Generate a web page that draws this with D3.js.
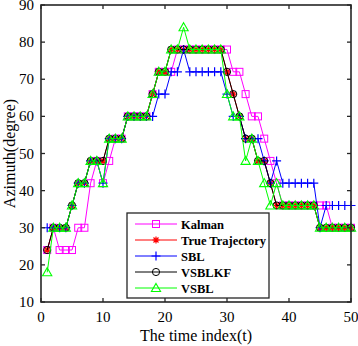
<!DOCTYPE html>
<html><head><meta charset="utf-8">
<script src="https://cdn.jsdelivr.net/npm/d3@7"></script>
<style>body{margin:0;background:#fff}svg{display:block}</style>
</head><body>
<svg id="c" width="358" height="346"></svg>
<script>
const timeIndex = d3.range(1, 51);
const kalman = [24,30,24,24,24,30,30,42,48,42, 48,54,54,60,60,60,60,66,72,72, 72,78,78,78,78,78,78,78,78,78, 72,72,66,60,60,54,48,42,36,36, 36,36,36,36,36,36,30,30,30,30];
const trueTraj = [24,30,30,30,36,42,42,48,48,48, 54,54,54,60,60,60,60,66,72,72, 78,78,78,78,78,78,78,78,78,72, 66,60,54,54,48,48,42,36,36,36, 36,36,36,36,30,30,30,30,30,30];
const sbl = [30,30,30,30,36,42,42,48,48,42, 54,54,54,60,60,60,60,60,66,66, 72,72,78,72,72,72,72,72,72,66, 60,60,54,54,54,48,42,48,42,42, 42,42,42,42,30,36,36,36,36,36];
const vsblkf = [24,30,30,30,36,42,42,48,48,48, 54,54,54,60,60,60,60,66,72,72, 78,78,78,78,78,78,78,78,78,72, 66,60,54,54,48,48,42,36,36,36, 36,36,36,36,30,30,30,30,30,30];
const vsbl = [18,30,30,30,36,42,42,48,48,42, 54,54,54,60,60,60,60,66,72,72, 78,78,84,78,78,78,78,78,78,66, 60,60,48,54,48,42,36,42,36,36, 36,36,36,36,30,30,30,30,30,30];
const xTicks = [0,10,20,30,40,50];
const yTicks = [10,20,30,40,50,60,70,80,90];
const seriesNames = ["Kalman","True Trajectory","SBL","VSBLKF","VSBL"];
const seriesColors = ["#ff00ff","#ff0000","#0000ff","#000000","#00ff00"];
const seriesMarkers = ["square","asterisk","plus","circle","triangle"];
const seriesData = [kalman, trueTraj, sbl, vsblkf, vsbl];

const svg = d3.select("#c");
const L = 41, R = 351, T = 5, B = 302;
const x = d3.scaleLinear().domain([0,50]).range([L,R]);
const y = d3.scaleLinear().domain([10,90]).range([B,T]);
const font = "'Liberation Serif','Times New Roman',serif";

function drawMarker(g, type, cx, cy, color) {
  if (type === "square") {
    g.append("rect").attr("x", cx-3.5).attr("y", cy-3.5).attr("width", 7).attr("height", 7)
      .attr("fill","none").attr("stroke", color).attr("stroke-width", 1);
  } else if (type === "asterisk") {
    const s = 3.5, d = 2.5;
    const p = `M${cx-s},${cy}L${cx+s},${cy}M${cx},${cy-s}L${cx},${cy+s}M${cx-d},${cy-d}L${cx+d},${cy+d}M${cx-d},${cy+d}L${cx+d},${cy-d}`;
    g.append("path").attr("d", p).attr("stroke", color).attr("stroke-width", 1.2).attr("fill","none");
  } else if (type === "plus") {
    const s = 4.5;
    g.append("path").attr("d", `M${cx-s},${cy}L${cx+s},${cy}M${cx},${cy-s}L${cx},${cy+s}`)
      .attr("stroke", color).attr("stroke-width", 1.2).attr("fill","none");
  } else if (type === "circle") {
    g.append("circle").attr("cx", cx).attr("cy", cy).attr("r", 3.6)
      .attr("fill","none").attr("stroke", color).attr("stroke-width", 1);
  } else if (type === "triangle") {
    const s = 4.6;
    g.append("path").attr("d", `M${cx},${cy-s}L${cx+s},${cy+s*0.75}L${cx-s},${cy+s*0.75}Z`)
      .attr("stroke", color).attr("stroke-width", 1.1).attr("fill","none");
  }
}

// series
const plotG = svg.append("g");
seriesData.forEach((vals, i) => {
  const g = plotG.append("g");
  const line = d3.line().x((d,j) => x(timeIndex[j])).y(d => y(d));
  g.append("path").datum(vals).attr("d", line).attr("fill","none")
    .attr("stroke", seriesColors[i]).attr("stroke-width", 1);
  vals.forEach((v, j) => drawMarker(g, seriesMarkers[i], x(timeIndex[j]), y(v), seriesColors[i]));
});

// axes box
const axisColor = "#262626";
const tl = 4;
const axG = svg.append("g");
axG.append("rect").attr("x", L).attr("y", T).attr("width", R-L).attr("height", B-T)
  .attr("fill","none").attr("stroke", axisColor).attr("stroke-width", 1.6);
xTicks.forEach(t => {
  const px = x(t);
  axG.append("line").attr("x1", px).attr("x2", px).attr("y1", B).attr("y2", B-tl).attr("stroke", axisColor).attr("stroke-width", 1.3);
  axG.append("line").attr("x1", px).attr("x2", px).attr("y1", T).attr("y2", T+tl).attr("stroke", axisColor).attr("stroke-width", 1.3);
  axG.append("text").attr("x", px).attr("y", B+20).attr("text-anchor","middle")
    .attr("font-family", font).attr("font-size", 15).attr("fill","#000").text(t);
});
yTicks.forEach(t => {
  const py = y(t);
  axG.append("line").attr("x1", L).attr("x2", L+tl).attr("y1", py).attr("y2", py).attr("stroke", axisColor).attr("stroke-width", 1.3);
  axG.append("line").attr("x1", R).attr("x2", R-tl).attr("y1", py).attr("y2", py).attr("stroke", axisColor).attr("stroke-width", 1.3);
  axG.append("text").attr("x", L-7).attr("y", py+5).attr("text-anchor","end")
    .attr("font-family", font).attr("font-size", 15).attr("fill","#000").text(t);
});
svg.append("text").attr("x", (L+R)/2).attr("y", 341).attr("text-anchor","middle")
  .attr("font-family", font).attr("font-size", 16).attr("fill","#000").text("The time index(t)");
svg.append("text").attr("transform", `translate(15,${(T+B)/2}) rotate(-90)`).attr("text-anchor","middle")
  .attr("font-family", font).attr("font-size", 16).attr("fill","#000").text("Azimuth(degree)");

// legend
const lg = svg.append("g");
lg.append("rect").attr("x", 127).attr("y", 213).attr("width", 142).attr("height", 85)
  .attr("fill","#fff").attr("stroke", axisColor).attr("stroke-width", 1.3);
seriesNames.forEach((n, i) => {
  const ly = 224 + i*16;
  lg.append("line").attr("x1", 135).attr("x2", 177).attr("y1", ly).attr("y2", ly)
    .attr("stroke", seriesColors[i]).attr("stroke-width", 1);
  drawMarker(lg, seriesMarkers[i], 156, ly, seriesColors[i]);
  lg.append("text").attr("x", 181).attr("y", ly+4.5).attr("font-family", font)
    .attr("font-size", 12.5).attr("font-weight","bold").attr("fill","#000").text(n);
});
</script>
</body></html>
